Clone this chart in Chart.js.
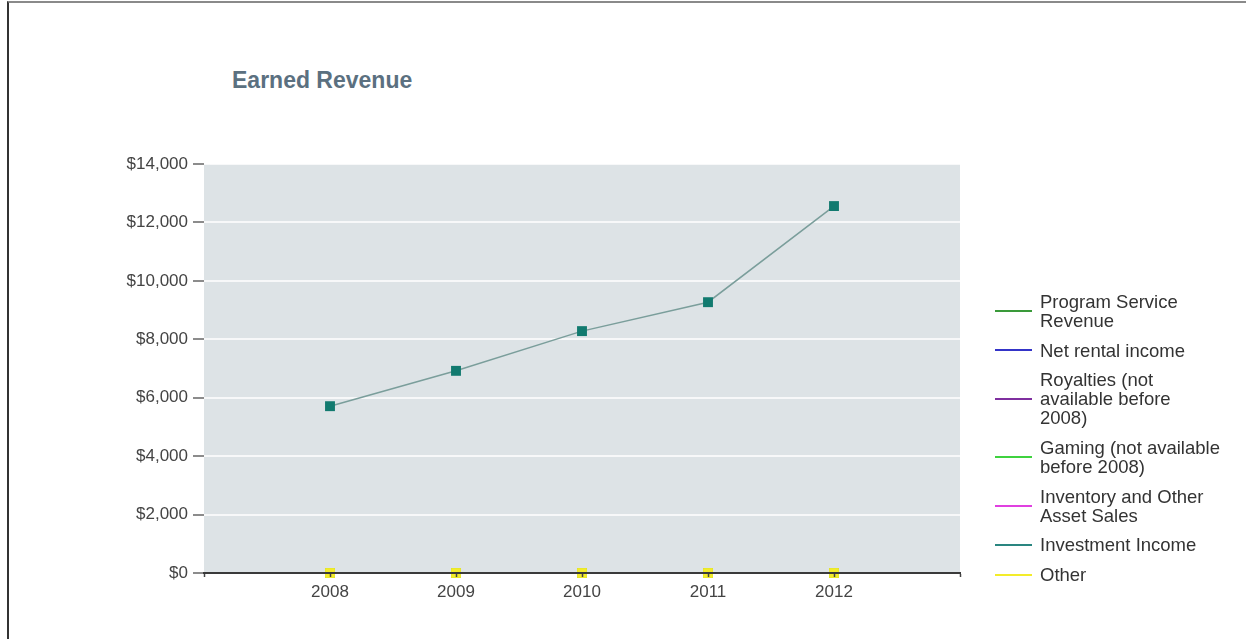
<!DOCTYPE html>
<html>
<head>
<meta charset="utf-8">
<script src="https://cdn.jsdelivr.net/npm/chart.js@4.4.1/dist/chart.umd.min.js"></script>
<style>
  html, body { margin: 0; padding: 0; background: #fff; }
  body { width: 1246px; height: 639px; position: relative; overflow: hidden; font-family: "Liberation Sans", Arial, sans-serif; }
  #frame { position: absolute; left: 7px; top: 1px; width: 1300px; height: 700px; border-left: 2px solid #333; border-top: 2px solid #8a8a8a; }
  #title { position: absolute; left: 232px; top: 66px; margin: 0; font-size: 23px; font-weight: bold; color: #5b7080; line-height: 28px; }
  #chart { position: absolute; left: 0; top: 0; }
  #legend { position: absolute; left: 995px; top: 292px; display: flex; flex-direction: column; gap: 10.7px; }
  .item { display: flex; align-items: center; }
  .swatch { width: 37px; height: 2px; margin-right: 8px; flex: none; }
  .label { font-size: 18.5px; line-height: 19px; color: #333; white-space: nowrap; }
</style>
</head>
<body>
<div id="frame"></div>
<h1 id="title">Earned Revenue</h1>
<canvas id="chart" width="1246" height="639"></canvas>
<div id="legend"></div>
<script>
// years on the x axis
const years = [2008, 2009, 2010, 2011, 2012]

// series values in dollars
const programService = [0, 0, 0, 0, 0]
const netRental = [0, 0, 0, 0, 0]
const royalties = [0, 0, 0, 0, 0]
const gaming = [0, 0, 0, 0, 0]
const inventorySales = [0, 0, 0, 0, 0]
const investmentIncome = [5710, 6920, 8280, 9270, 12560]
const other = [0, 0, 0, 0, 0]

// y axis ticks
const yTicks = [0, 2000, 4000, 6000, 8000, 10000, 12000, 14000]

const seriesLabels = [
  ['Program Service', 'Revenue'],
  ['Net rental income'],
  ['Royalties (not', 'available before', '2008)'],
  ['Gaming (not available', 'before 2008)'],
  ['Inventory and Other', 'Asset Sales'],
  ['Investment Income'],
  ['Other']
]
const seriesColors = ['#3a9a3a', '#3434c8', '#7f2f9f', '#3fd23f', '#e040e0', '#2a8680', '#f3ec2a']
const seriesValues = [programService, netRental, royalties, gaming, inventorySales, investmentIncome, other]

const toPoints = values => values.map((v, i) => ({ x: years[i], y: v }))

const datasets = seriesValues.map((values, i) => {
  let isInvestment = values === investmentIncome
  let isOther = values === other
  return {
    label: seriesLabels[i].join(' '),
    data: toPoints(values),
    borderColor: isInvestment ? '#7a9e9b' : seriesColors[i],
    backgroundColor: isInvestment ? '#117a6f' : seriesColors[i],
    pointBackgroundColor: isInvestment ? '#117a6f' : seriesColors[i],
    pointBorderColor: isInvestment ? '#117a6f' : seriesColors[i],
    borderWidth: 1.5,
    pointStyle: 'rect',
    pointRadius: 7,
    pointBorderWidth: 0,
    clip: false,
    // "Other" sits on top of the empty series at zero
    order: isOther ? -2 : isInvestment ? -1 : 0
  }
})

// grey plot background behind the grid
const plotBackground = {
  id: 'plotBackground',
  beforeDraw(chart) {
    let { ctx, chartArea } = chart
    ctx.save()
    ctx.fillStyle = '#dde3e6'
    ctx.fillRect(chartArea.left, chartArea.top, chartArea.right - chartArea.left, chartArea.bottom - chartArea.top)
    ctx.restore()
  }
}

const tickFont = { family: '"Liberation Sans", Arial, sans-serif', size: 17 }

new Chart(document.getElementById('chart'), {
  type: 'line',
  data: { datasets: datasets },
  options: {
    responsive: false,
    animation: false,
    layout: { padding: { top: 164, right: 286, bottom: 0, left: 0 } },
    plugins: {
      legend: { display: false },
      title: { display: false },
      tooltip: { enabled: false }
    },
    scales: {
      x: {
        type: 'linear',
        min: years[0] - 1,
        max: years[years.length - 1] + 1,
        z: 1,
        afterBuildTicks: scale => {
          scale.ticks = [years[0] - 1, ...years, years[years.length - 1] + 1].map(v => ({ value: v }))
        },
        afterFit: scale => {
          scale.height = 66
        },
        ticks: {
          autoSkip: false,
          maxRotation: 0,
          padding: 5,
          color: '#444',
          font: tickFont,
          callback: value => (years.includes(value) ? String(value) : '')
        },
        // axis line and tick marks drawn over the markers at zero
        grid: {
          z: 1,
          drawOnChartArea: false,
          tickLength: 4,
          tickColor: '#444',
          tickWidth: 1.5
        },
        border: { z: 1, display: true, color: '#3a3a3a', width: 2 }
      },
      y: {
        min: yTicks[0],
        max: yTicks[yTicks.length - 1],
        afterBuildTicks: scale => {
          scale.ticks = yTicks.map(v => ({ value: v }))
        },
        afterFit: scale => {
          scale.width = 204
        },
        ticks: {
          padding: 5,
          color: '#444',
          font: tickFont,
          callback: value => '$' + value.toLocaleString('en-US')
        },
        grid: {
          color: 'rgba(255,255,255,0.75)',
          lineWidth: 2,
          tickLength: 11,
          tickColor: '#666',
          tickWidth: 1.5
        },
        border: { display: false }
      }
    }
  },
  plugins: [plotBackground]
})

// legend built from the same series lists
const legend = document.getElementById('legend')
seriesLabels.forEach((lines, i) => {
  let item = document.createElement('div')
  item.className = 'item'
  let swatch = document.createElement('span')
  swatch.className = 'swatch'
  swatch.style.background = seriesColors[i]
  let label = document.createElement('span')
  label.className = 'label'
  label.innerHTML = lines.join('<br>')
  item.appendChild(swatch)
  item.appendChild(label)
  legend.appendChild(item)
})
</script>
</body>
</html>
